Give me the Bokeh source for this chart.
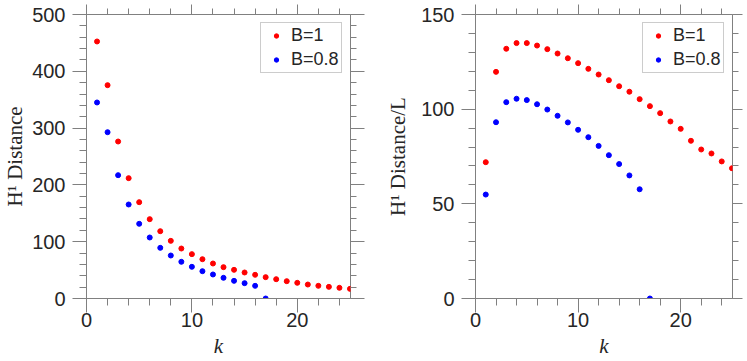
from bokeh.plotting import figure
from bokeh.models import (Range1d, LinearAxis, SingleIntervalTicker, Legend, LegendItem,
                          ColumnDataSource, CustomLabelingPolicy)
from bokeh.layouts import row
from bokeh.embed import file_html
from bokeh.resources import INLINE

# ---------------- data ----------------
k_b1 = list(range(1, 26))
k_b08 = list(range(1, 18))

dist_b1 = [452.5, 375.6, 276.4, 211.9, 169.6, 139.7, 118.5, 101.5, 88.0, 78.1,
           69.2, 61.6, 55.2, 50.5, 45.8, 41.7, 37.6, 34.0, 30.5, 27.6,
           24.6, 22.3, 20.5, 18.8, 17.0]
dist_b08 = [345.1, 292.8, 217.1, 165.5, 131.5, 107.4, 89.2, 75.7, 64.6, 55.8,
            48.1, 42.3, 36.4, 31.1, 27.0, 22.3, 0.0]

distL_b1 = [72.0, 119.7, 131.9, 134.9, 134.9, 133.6, 131.7, 129.4, 126.9, 124.3,
            121.3, 118.3, 115.3, 112.1, 109.2, 105.3, 101.6, 97.9, 93.5, 89.6,
            83.3, 78.7, 76.6, 72.4, 68.8]
distL_b08 = [54.9, 93.1, 103.7, 105.5, 104.8, 102.6, 99.8, 96.5, 93.0, 89.1,
             85.2, 80.6, 75.7, 71.0, 65.0, 57.7, 0.0]

series_labels = ["B=1", "B=0.8"]
series_colors = ["#ff0000", "#0000ff"]

x_label = "k"
y_label_left = "H\u00b9 Distance"
y_label_right = "H\u00b9 Distance/L"

AX_COLOR = "#808080"
TXT_COLOR = "#262626"


def style_axis(ax, major_out, minor_out, labels=True, standoff=7):
    ax.axis_line_color = AX_COLOR
    ax.major_tick_line_color = AX_COLOR
    ax.minor_tick_line_color = AX_COLOR
    ax.major_tick_in = 0
    ax.minor_tick_in = 0
    ax.major_tick_out = major_out
    ax.minor_tick_out = minor_out
    if labels:
        ax.major_label_text_font = "Liberation Sans"
        ax.major_label_text_font_size = "20px"
        ax.major_label_text_color = TXT_COLOR
        ax.major_label_standoff = standoff
    else:
        ax.axis_line_color = None
        ax.major_label_policy = CustomLabelingPolicy(
            code="for (const i of Array.from(indices)) indices.unset(i)")
        ax.major_label_text_font_size = "1px"
        ax.major_label_standoff = 0


def make_panel(width, y_end, y_major, ys1, ys2, ylab, ylab_standoff, border_right, right_out):
    p = figure(width=width, height=361, output_backend="svg", toolbar_location=None,
               x_range=Range1d(0, 25.05), y_range=Range1d(0, y_end),
               min_border_left=81, min_border_right=border_right,
               min_border_top=14, min_border_bottom=63)
    p.outline_line_color = AX_COLOR
    p.outline_line_width = 1
    p.xgrid.visible = False
    p.ygrid.visible = False
    p.background_fill_color = "white"
    p.border_fill_color = "white"

    xa = p.xaxis[0]
    xa.ticker = SingleIntervalTicker(interval=10, num_minor_ticks=5)
    style_axis(xa, 14, 7, standoff=0)
    xa.axis_label = x_label
    xa.axis_label_text_font = "Liberation Serif"
    xa.axis_label_text_font_style = "italic"
    xa.axis_label_text_font_size = "21px"
    xa.axis_label_text_color = TXT_COLOR
    xa.axis_label_standoff = 4

    ya = p.yaxis[0]
    ya.ticker = SingleIntervalTicker(interval=y_major, num_minor_ticks=5)
    style_axis(ya, 14, 7, standoff=7)
    ya.axis_label = ylab
    ya.axis_label_text_font = "Liberation Serif"
    ya.axis_label_text_font_style = "normal"
    ya.axis_label_text_font_size = "21px"
    ya.axis_label_text_color = TXT_COLOR
    ya.axis_label_standoff = ylab_standoff

    top = LinearAxis(ticker=SingleIntervalTicker(interval=10, num_minor_ticks=5))
    style_axis(top, 10, 6, labels=False)
    p.add_layout(top, "above")
    rt = LinearAxis(ticker=SingleIntervalTicker(interval=y_major, num_minor_ticks=5))
    style_axis(rt, right_out, 6, labels=False)
    p.add_layout(rt, "right")

    s1 = ColumnDataSource(dict(x=k_b1, y=ys1))
    s2 = ColumnDataSource(dict(x=k_b08, y=ys2))
    r1 = p.scatter("x", "y", source=s1, size=5, color=series_colors[0])
    r2 = p.scatter("x", "y", source=s2, size=5, color=series_colors[1])

    leg = Legend(items=[LegendItem(label=series_labels[0], renderers=[r1]),
                        LegendItem(label=series_labels[1], renderers=[r2])],
                 location="top_right")
    leg.margin = 8
    leg.padding = 2
    leg.glyph_width = 26
    leg.glyph_height = 11
    leg.label_height = 20
    leg.label_width = 48
    leg.label_standoff = 2
    leg.spacing = 3
    leg.label_text_font = "Liberation Sans"
    leg.label_text_font_size = "18px"
    leg.label_text_color = TXT_COLOR
    leg.border_line_color = "#999999"
    leg.border_line_width = 1
    leg.background_fill_color = "white"
    leg.background_fill_alpha = 1.0
    p.add_layout(leg, "center")
    return p


p1 = make_panel(383, 500, 100, dist_b1, dist_b08, y_label_left, 2, 33, 14)
p2 = make_panel(364, 150, 50, distL_b1, distL_b08, y_label_right, 8, 15, 10)

layout = row(p1, p2)
open("out.html", "w").write(file_html(layout, INLINE))
